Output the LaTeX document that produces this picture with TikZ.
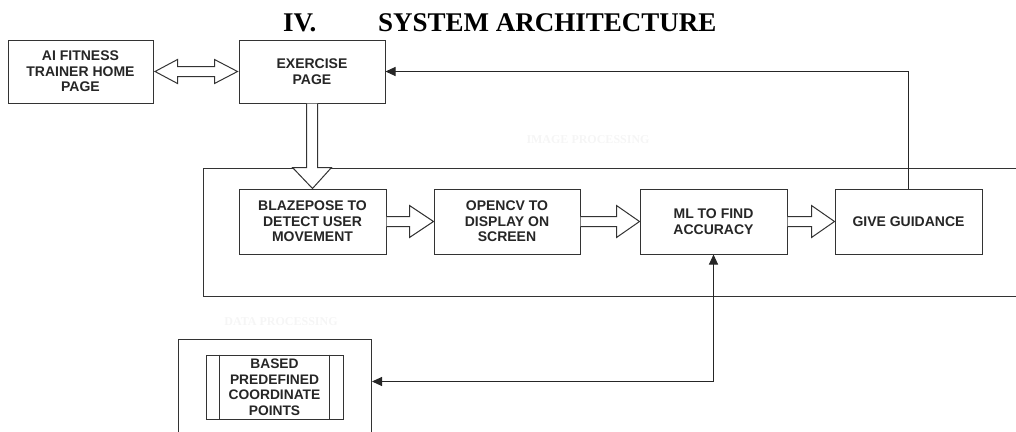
\documentclass[tikz,border=0pt]{standalone}
\usepackage{fontspec}
\setmainfont{Liberation Sans}
\newfontfamily\timesfont{Liberation Serif}
\usetikzlibrary{calc,arrows.meta}
\begin{document}
\begin{tikzpicture}[x=1pt,y=-1pt,
 box/.style={draw=black!80, line width=1pt, fill=white, align=center, font=\bfseries\fontsize{14}{15.5}\selectfont, inner sep=0pt, text=black!85},
 frame/.style={draw=black!80, line width=1pt},
 blk/.style={draw=black!80, line width=1pt, fill=white, line join=miter},
 ln/.style={draw=black!85, line width=1pt},
 tip/.style={-{Triangle[length=10pt,width=9pt]}},
 tips/.style={{Triangle[length=10pt,width=9pt]}-{Triangle[length=10pt,width=9pt]}},
 faint/.style={font=\timesfont\bfseries\fontsize{12}{14}\selectfont, text=black!4, inner sep=0pt}]
\useasboundingbox (0,0) rectangle (1016,431);
\clip (0,0) rectangle (1016,431);
% title
\node[anchor=base west, font=\timesfont\bfseries\fontsize{27}{30}\selectfont, inner sep=0pt] (t1) at (283,31) {IV.};
\node[anchor=base west, font=\timesfont\bfseries\fontsize{27}{30}\selectfont, inner sep=0pt] (t2) at (378,31) {SYSTEM ARCHITECTURE};
% faint labels
\node[faint] (lab1) at (588,140) {IMAGE PROCESSING};
\node[faint] (lab2) at (281,322) {DATA PROCESSING};
% containers
\node[frame, anchor=north west, minimum width=827pt, minimum height=128pt, inner sep=0pt] (proc) at (203,168) {};
\node[frame, anchor=north west, minimum width=193pt, minimum height=110pt, inner sep=0pt] (dbox) at (178,339) {};
% boxes
\node[box, minimum width=145pt, minimum height=63pt] (home) at (80.5,71.5) {AI FITNESS\\TRAINER HOME\\PAGE};
\node[box, minimum width=146pt, minimum height=63pt] (ex) at (312,71.5) {EXERCISE\\PAGE};
\node[box, minimum width=147pt, minimum height=65pt] (bp) at (312.5,221.5) {BLAZEPOSE TO\\DETECT USER\\MOVEMENT};
\node[box, minimum width=146pt, minimum height=65pt] (cv) at (507,221.5) {OPENCV TO\\DISPLAY ON\\SCREEN};
\node[box, minimum width=147pt, minimum height=65pt] (ml) at (713.5,221.5) {ML TO FIND\\ACCURACY};
\node[box, minimum width=147pt, minimum height=65pt] (gg) at (908.5,221.5) {GIVE GUIDANCE};
\node[box, minimum width=137pt, minimum height=64pt, font=\bfseries\fontsize{13.8}{15.5}\selectfont] (pp) at (274.5,387) {BASED\\PREDEFINED\\COORDINATE\\POINTS};
\draw[frame] ($(pp.north west)+(14,0)$) -- ($(pp.south west)+(14,0)$);
\draw[frame] ($(pp.north east)+(-14,0)$) -- ($(pp.south east)+(-14,0)$);
% double block arrow home <-> exercise
\draw[blk] let \p1=(home.east), \p2=(ex.west) in
  (\x1+1.5,\y1) -- (\x1+24,\y1+12) -- (\x1+24,\y1+5) -- (\x2-24,\y1+5) -- (\x2-24,\y1+12) -- (\x2-1,\y1)
  -- (\x2-24,\y1-12) -- (\x2-24,\y1-5) -- (\x1+24,\y1-5) -- (\x1+24,\y1-12) -- cycle;
% down block arrow exercise -> blazepose
\draw[blk] let \p1=(ex.south), \p2=(bp.north) in
  (\x1-5.5,\y1) -- (\x1-5.5,\y2+21) -- (\x1-19.5,\y2+21) -- (\x2,\y2) -- (\x1+19.5,\y2+21) -- (\x1+5.5,\y2+21) -- (\x1+5.5,\y1);
% horizontal block arrows
\draw[blk] let \p1=(bp.east), \p2=(cv.west) in
  (\x1,\y1+5) -- (\x2-24,\y1+5) -- (\x2-24,\y1+16) -- (\x2,\y1) -- (\x2-24,\y1-16) -- (\x2-24,\y1-5) -- (\x1,\y1-5);
\draw[blk] let \p1=(cv.east), \p2=(ml.west) in
  (\x1,\y1+5) -- (\x2-23,\y1+5) -- (\x2-23,\y1+16) -- (\x2,\y1) -- (\x2-23,\y1-16) -- (\x2-23,\y1-5) -- (\x1,\y1-5);
\draw[blk] let \p1=(ml.east), \p2=(gg.west) in
  (\x1,\y1+5) -- (\x2-23,\y1+5) -- (\x2-23,\y1+16) -- (\x2,\y1) -- (\x2-23,\y1-16) -- (\x2-23,\y1-5) -- (\x1,\y1-5);
% feedback connectors
\draw[ln, tip] (gg.north) |- (ex.east);
\draw[ln, tips] (ml.south) |- ([yshift=13pt]dbox.east);
\end{tikzpicture}
\end{document}
